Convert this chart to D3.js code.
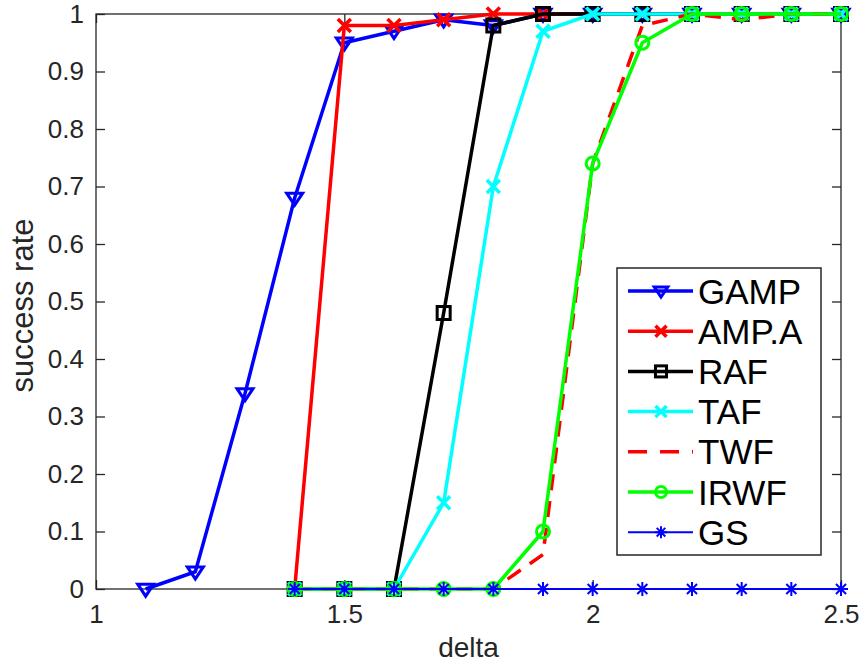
<!DOCTYPE html>
<html lang="en">
<head>
  <meta charset="UTF-8" />
  <title>success rate vs delta</title>
  <script src="https://d3js.org/d3.v7.min.js"></script>
  <style>
    body {
      margin: 0;
      background-color: #ffffff;
    }

    text {
      font-family: 'Liberation Sans', Arial, Helvetica, sans-serif;
    }

    .axis-line {
      fill: none;
      stroke: #262626;
      stroke-width: 1.3;
    }

    .tick-label {
      font-size: 26px;
      fill: #262626;
    }

    .axis-title {
      font-size: 28px;
      fill: #262626;
    }

    .legend-item text {
      font-size: 35px;
      fill: #000;
    }
  </style>
</head>
<body>

  <div id="chart"></div>

  <script>
    // delta values shared by all curves
    const deltas = [1.1, 1.2, 1.3, 1.4, 1.5, 1.6, 1.7, 1.8, 1.9, 2.0, 2.1, 2.2, 2.3, 2.4, 2.5];

    // success rates, null where the curve is not plotted
    const gampValues = [0, 0.03, 0.34, 0.68, 0.95, 0.97, 0.99, 0.98, 1, 1, 1, 1, 1, 1, 1];
    const ampaValues = [null, null, null, 0, 0.98, 0.98, 0.99, 1, 1, 1, 1, 1, 1, 1, 1];
    const rafValues  = [null, null, null, 0, 0, 0, 0.48, 0.98, 1, 1, 1, 1, 1, 1, 1];
    const tafValues  = [null, null, null, 0, 0, 0, 0.15, 0.70, 0.97, 1, 1, 1, 1, 1, 1];
    const twfValues  = [null, null, null, 0, 0, 0, 0, 0, 0.06, 0.74, 0.98, 1, 0.99, 1, 1];
    const irwfValues = [null, null, null, 0, 0, 0, 0, 0, 0.10, 0.74, 0.95, 1, 1, 1, 1];
    const gsValues   = [null, null, null, 0, 0, 0, 0, 0, 0, 0, 0, 0, 0, 0, 0];

    const xTicks = [1, 1.5, 2, 2.5];
    const yTicks = [0, 0.1, 0.2, 0.3, 0.4, 0.5, 0.6, 0.7, 0.8, 0.9, 1];

    const seriesList = [
      { label: "GAMP", values: gampValues, color: "#0000ff", marker: "triangleDown", width: 3.5 },
      { label: "AMP.A", values: ampaValues, color: "#ff0000", marker: "cross", width: 3.5 },
      { label: "RAF", values: rafValues, color: "#000000", marker: "square", width: 3.5 },
      { label: "TAF", values: tafValues, color: "#00ffff", marker: "cross", width: 3.5 },
      { label: "TWF", values: twfValues, color: "#ff0000", marker: null, width: 3.5, dash: "16,11" },
      { label: "IRWF", values: irwfValues, color: "#00ff00", marker: "circle", width: 3.5 },
      { label: "GS", values: gsValues, color: "#0000ff", marker: "asterisk", width: 2 }
    ];

    function drawChart() {
      const svgWidth = 862;
      const svgHeight = 666;
      const plot = { left: 96, right: 841, top: 14, bottom: 589 };

      const svg = d3.select("#chart")
        .append("svg")
        .attr("width", svgWidth)
        .attr("height", svgHeight);

      const x = d3.scaleLinear().domain([1, 2.5]).range([plot.left, plot.right]);
      const y = d3.scaleLinear().domain([0, 1]).range([plot.bottom, plot.top]);

      drawAxes(svg, x, y, plot);

      seriesList.forEach(s => {
        const points = deltas.map((d, i) => ({ d, v: s.values[i] })).filter(p => p.v !== null);
        const line = d3.line().x(p => x(p.d)).y(p => y(p.v));

        svg.append("path")
          .datum(points)
          .attr("fill", "none")
          .attr("stroke", s.color)
          .attr("stroke-width", s.width)
          .attr("stroke-dasharray", s.dash || null)
          .attr("stroke-linejoin", "round")
          .attr("d", line);

        if (s.marker) {
          points.forEach(p => drawMarker(svg, s.marker, x(p.d), y(p.v), s.color, 1));
        }
      });

      drawLegend(svg);
    }

    function drawAxes(svg, x, y, plot) {
      const tickLen = 9;

      // bottom / left axes with tick labels
      const xAxis = svg.append("g")
        .attr("transform", `translate(0,${plot.bottom})`)
        .call(d3.axisBottom(x).tickValues(xTicks).tickFormat(d3.format("")).tickSize(-tickLen).tickPadding(16));
      const yAxis = svg.append("g")
        .attr("transform", `translate(${plot.left},0)`)
        .call(d3.axisLeft(y).tickValues(yTicks).tickFormat(d => d === 0 || d === 1 ? d : d3.format(".1f")(d)).tickSize(-tickLen).tickPadding(12));

      // top / right ticks
      const xTop = svg.append("g")
        .attr("transform", `translate(0,${plot.top})`)
        .call(d3.axisTop(x).tickValues(xTicks).tickFormat("").tickSize(-tickLen));
      const yRight = svg.append("g")
        .attr("transform", `translate(${plot.right},0)`)
        .call(d3.axisRight(y).tickValues(yTicks).tickFormat("").tickSize(-tickLen));

      [xAxis, yAxis, xTop, yRight].forEach(g => {
        g.select(".domain").remove();
        g.selectAll(".tick line").attr("stroke", "#262626").attr("stroke-width", 1.3);
      });

      xAxis.selectAll(".tick text").attr("class", "tick-label").attr("font-size", null).attr("font-family", null);
      yAxis.selectAll(".tick text").attr("class", "tick-label").attr("font-size", null).attr("font-family", null);

      svg.append("rect")
        .attr("class", "axis-line")
        .attr("x", plot.left)
        .attr("y", plot.top)
        .attr("width", plot.right - plot.left)
        .attr("height", plot.bottom - plot.top);

      svg.append("text")
        .attr("class", "axis-title")
        .attr("x", (plot.left + plot.right) / 2)
        .attr("y", 657)
        .attr("text-anchor", "middle")
        .text("delta");

      svg.append("text")
        .attr("class", "axis-title")
        .attr("transform", `translate(33,${(plot.top + plot.bottom) / 2 + 4}) rotate(-90)`)
        .attr("text-anchor", "middle")
        .style("font-size", "31px")
        .text("success rate");
    }

    function drawMarker(g, type, cx, cy, color, k) {
      if (type === "triangleDown") {
        const r = 8 * k;
        g.append("path")
          .attr("d", `M${cx - r},${cy - r * 0.6}L${cx + r},${cy - r * 0.6}L${cx},${cy + r * 0.9}Z`)
          .attr("fill", "none").attr("stroke", color).attr("stroke-width", 3);
      } else if (type === "cross") {
        const r = 6.5 * k;
        g.append("path")
          .attr("d", `M${cx - r},${cy - r}L${cx + r},${cy + r}M${cx - r},${cy + r}L${cx + r},${cy - r}`)
          .attr("stroke", color).attr("stroke-width", 3.5);
      } else if (type === "square") {
        const r = 6.5 * k;
        g.append("rect")
          .attr("x", cx - r).attr("y", cy - r).attr("width", 2 * r).attr("height", 2 * r)
          .attr("fill", "none").attr("stroke", color).attr("stroke-width", 3);
      } else if (type === "circle") {
        g.append("circle")
          .attr("cx", cx).attr("cy", cy).attr("r", 6.5 * k)
          .attr("fill", "none").attr("stroke", color).attr("stroke-width", 3);
      } else if (type === "asterisk") {
        const r = 7 * k;
        const d = r * 0.72;
        g.append("path")
          .attr("d", `M${cx},${cy - r}L${cx},${cy + r}M${cx - d},${cy - d}L${cx + d},${cy + d}M${cx - d},${cy + d}L${cx + d},${cy - d}M${cx - r},${cy}L${cx + r},${cy}`)
          .attr("stroke", color).attr("stroke-width", 2);
      }
    }

    function drawLegend(svg) {
      const box = { x: 617, y: 268, w: 204, h: 287 };
      const legend = svg.append("g");

      legend.append("rect")
        .attr("x", box.x).attr("y", box.y).attr("width", box.w).attr("height", box.h)
        .attr("fill", "#ffffff").attr("stroke", "#262626").attr("stroke-width", 1.5);

      const items = legend.selectAll(".legend-item")
        .data(seriesList)
        .enter()
        .append("g")
        .attr("class", "legend-item")
        .attr("transform", (d, i) => `translate(0,${291 + i * 40.2})`);

      items.append("line")
        .attr("x1", 628).attr("x2", 693).attr("y1", 0).attr("y2", 0)
        .attr("stroke", d => d.color)
        .attr("stroke-width", d => d.width)
        .attr("stroke-dasharray", d => d.dash ? "19,13" : null);

      items.each(function (d) {
        if (d.marker) drawMarker(d3.select(this), d.marker, 661, 0, d.color, 0.85);
      });

      items.append("text")
        .attr("x", 698)
        .attr("y", 12.5)
        .text(d => d.label);
    }

    drawChart();
  </script>

</body>
</html>
